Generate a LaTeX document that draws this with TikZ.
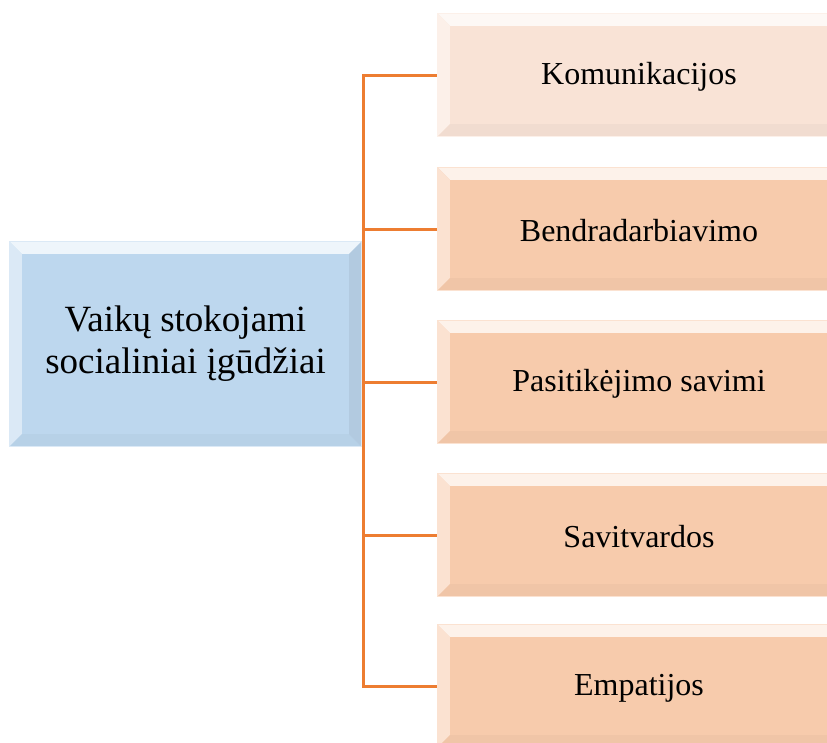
\documentclass[tikz,border=0pt]{standalone}
\usepackage{fontspec}
\setmainfont{Liberation Serif}
\definecolor{bluefill}{HTML}{BDD7EE}
\definecolor{peach}{HTML}{F7CBAC}
\definecolor{lightpeach}{HTML}{F9E3D6}
\definecolor{conncol}{HTML}{ED7D31}
\newcommand\bevel[2]{%
 \fill[#2!25!white] (#1.north west) -- (#1.north east) -- ([xshift=-12pt,yshift=-12pt]#1.north east) -- ([xshift=12pt,yshift=-12pt]#1.north west) -- cycle;
 \fill[#2!55!white] (#1.north west) -- ([xshift=12pt,yshift=-12pt]#1.north west) -- ([xshift=12pt,yshift=12pt]#1.south west) -- (#1.south west) -- cycle;
 \fill[#2!97!black] (#1.south west) -- ([xshift=12pt,yshift=12pt]#1.south west) -- ([xshift=-12pt,yshift=12pt]#1.south east) -- (#1.south east) -- cycle;
 \fill[#2!94!black] (#1.north east) -- ([xshift=-12pt,yshift=-12pt]#1.north east) -- ([xshift=-12pt,yshift=12pt]#1.south east) -- (#1.south east) -- cycle;
 \draw[#2!55!white, line width=0.8pt] (#1.north west) rectangle (#1.south east);
}
\tikzset{
 rootbox/.style={rectangle, fill=bluefill, inner sep=0pt, minimum width=351pt, minimum height=204pt},
 leafbox/.style={rectangle, fill=#1, inner sep=0pt, minimum width=402pt, minimum height=122pt},
 roottext/.style={align=center, font=\fontsize{37}{42}\selectfont},
 leaftext/.style={font=\fontsize{32}{36}\selectfont},
 conn/.style={draw=conncol, line width=3pt},
}
\begin{document}
\begin{tikzpicture}[x=1pt,y=-1pt]
\useasboundingbox (0,0) rectangle (827,742);
\clip (0,0) rectangle (827,742);
\fill[white] (0,0) rectangle (827,742);
\coordinate (trunk) at (363,75);
\node[leafbox=lightpeach] (k) at (639,75) {};
\node[leafbox=peach] (b) at (639,229) {};
\node[leafbox=peach] (p) at (639,382) {};
\node[leafbox=peach] (s) at (639,535) {};
\node[leafbox=peach] (e) at (639,686) {};
\node[rootbox] (root) at (185.5,344) {};
\draw[conn] (k.west) -- (k.west -| trunk) -- (e.west -| trunk) -- (e.west);
\draw[conn] (b.west) -- (b.west -| trunk);
\draw[conn] (p.west) -- (p.west -| trunk);
\draw[conn] (s.west) -- (s.west -| trunk);
\draw[conn] (root.east) -- (root.east -| trunk);
\bevel{root}{bluefill}
\bevel{k}{lightpeach}
\bevel{b}{peach}
\bevel{p}{peach}
\bevel{s}{peach}
\bevel{e}{peach}
\node[roottext] (roottxt) at (root.center) {Vaikų stokojami\\socialiniai įgūdžiai};
\node[leaftext] (ktxt) at ([yshift=-2pt]k.center) {Komunikacijos};
\node[leaftext] (btxt) at ([yshift=-2pt]b.center) {Bendradarbiavimo};
\node[leaftext] (ptxt) at ([yshift=-2pt]p.center) {Pasitikėjimo savimi};
\node[leaftext] (stxt) at ([yshift=-2pt]s.center) {Savitvardos};
\node[leaftext] (etxt) at ([yshift=-2pt]e.center) {Empatijos};
\end{tikzpicture}
\end{document}
